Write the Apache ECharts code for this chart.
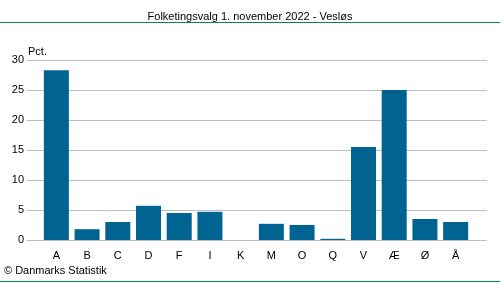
<!DOCTYPE html>
<html>
<head>
<meta charset="utf-8">
<script src="https://cdn.jsdelivr.net/npm/echarts@6/dist/echarts.min.js"></script>
<style>
  html, body { margin: 0; padding: 0; background: #fff; }
  #chart { width: 500px; height: 282px; }
</style>
</head>
<body>
<div id="chart"></div>
<script>
// Party letters and vote shares (percent)
const parties = ['A', 'B', 'C', 'D', 'F', 'I', 'K', 'M', 'O', 'Q', 'V', 'Æ', 'Ø', 'Å'];
const shares = [28.3, 1.8, 3.0, 5.7, 4.5, 4.7, 0, 2.7, 2.5, 0.2, 15.5, 25.0, 3.5, 3.0];
const yTicks = [0, 5, 10, 15, 20, 25, 30];

const FONT = '"Liberation Sans", Arial, sans-serif';
const chart = echarts.init(document.getElementById('chart'), null, { renderer: 'canvas' });

const yMin = yTicks[0];
const yMax = yTicks[yTicks.length - 1];

chart.setOption({
  animation: false,
  backgroundColor: '#ffffff',
  title: {
    text: 'Folketingsvalg 1. november 2022 - Vesløs',
    left: 'center',
    top: 6,
    textStyle: { fontFamily: FONT, fontSize: 11, fontWeight: 'normal', color: '#000' }
  },
  graphic: [
    { type: 'line', shape: { x1: 0, y1: 22.5, x2: 500, y2: 22.5 }, style: { stroke: '#0a8a47', lineWidth: 1 } },
    { type: 'line', shape: { x1: 0, y1: 281.5, x2: 500, y2: 281.5 }, style: { stroke: '#0a8a47', lineWidth: 1 } },
    { type: 'text', left: 4, top: 265, style: { text: '© Danmarks Statistik', font: '11px ' + FONT, fill: '#000' } },
    { type: 'text', left: 28, top: 46, style: { text: 'Pct.', font: '11px ' + FONT, fill: '#000' } }
  ],
  // grid 0: full-width gridlines and value labels; grid 1: inset band for the bars
  grid: [
    { left: 27, right: 13, top: 60, bottom: 42 },
    { left: 41, right: 29, top: 60, bottom: 42 }
  ],
  xAxis: [
    { type: 'value', gridIndex: 0, show: false, min: 0, max: 1 },
    {
      type: 'category',
      gridIndex: 1,
      data: parties,
      axisLine: { show: false },
      axisTick: { show: false },
      axisLabel: { fontFamily: FONT, fontSize: 11, color: '#000', margin: 10 }
    }
  ],
  yAxis: [
    {
      type: 'value',
      gridIndex: 0,
      min: yMin,
      max: yMax,
      interval: 5,
      axisLine: { show: false },
      axisTick: { show: false },
      axisLabel: { fontFamily: FONT, fontSize: 11, color: '#000', margin: 3 },
      splitLine: { lineStyle: { color: '#bdbdc8', width: 1 } }
    },
    {
      type: 'value',
      gridIndex: 1,
      min: yMin,
      max: yMax,
      interval: 5,
      show: false,
      splitLine: { show: false }
    }
  ],
  series: [{
    type: 'bar',
    xAxisIndex: 1,
    yAxisIndex: 1,
    data: shares,
    barWidth: 25,
    itemStyle: { color: '#006391' }
  }]
});
</script>
</body>
</html>
